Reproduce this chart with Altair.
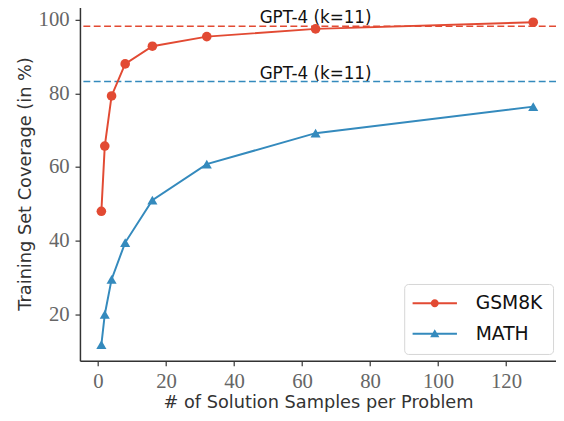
import altair as alt
import pandas as pd

samples = [1, 2, 4, 8, 16, 32, 64, 128]
gsm8k = [48.0, 65.7, 79.3, 88.0, 92.8, 95.4, 97.5, 99.3]
math_cov = [11.8, 20.0, 29.5, 39.5, 51.0, 60.8, 69.2, 76.4]
series_names = ["GSM8K", "MATH"]
series_colors = ["#E24A33", "#348ABD"]
gpt4_values = [98.2, 83.2]
gpt4_labels = ["GPT-4 (k=11)", "GPT-4 (k=11)"]
gpt4_label_x = [64, 64]
x_ticks = [0, 20, 40, 60, 80, 100, 120]
y_ticks = [20, 40, 60, 80, 100]

df = pd.DataFrame({
    "samples": samples * 2,
    "coverage": gsm8k + math_cov,
    "series": [series_names[0]] * len(samples) + [series_names[1]] * len(samples),
})
ref_df = pd.DataFrame({"value": gpt4_values, "label": gpt4_labels,
                       "lx": gpt4_label_x, "series": series_names})

xs = alt.Scale(domain=[-5.3, 134.7], nice=False, zero=False)
ys = alt.Scale(domain=[7.4, 103.7], nice=False, zero=False)

TICK_FONT = "Liberation Serif"

x_axis = alt.Axis(values=x_ticks, grid=False, title="# of Solution Samples per Problem",
                  labelFont=TICK_FONT, labelFontSize=21, labelColor="#666666",
                  titleFont="DejaVu Sans", titleFontSize=18, titleFontWeight="normal",
                  titleColor="#333333", titlePadding=2, labelPadding=5,
                  domainColor="#333333", domainWidth=1.5, tickColor="#333333",
                  tickSize=5, tickWidth=1.2)
y_axis = alt.Axis(values=y_ticks, grid=False, title="Training Set Coverage (in %)",
                  labelFont=TICK_FONT, labelFontSize=21, labelColor="#666666",
                  titleFont="DejaVu Sans", titleFontSize=18, titleFontWeight="normal",
                  titleColor="#333333", titlePadding=4, labelPadding=6,
                  domainColor="#333333", domainWidth=1.5, tickColor="#333333",
                  tickSize=5, tickWidth=1.2)

base = alt.Chart(df)

# drawn marks use stroke/fill channels (no legend); the legend comes from a separate colour layer
stroke_scale = alt.Scale(range=series_colors)

lines = base.mark_line(strokeWidth=2).encode(
    x=alt.X("samples:Q", scale=xs, axis=x_axis),
    y=alt.Y("coverage:Q", scale=ys, axis=y_axis),
    stroke=alt.Stroke("series:N", scale=stroke_scale, legend=None),
)

circles = base.transform_filter(alt.datum.series == "GSM8K").mark_point(
    filled=True, shape="circle", size=95, opacity=1
).encode(x="samples:Q", y="coverage:Q",
         fill=alt.Fill("series:N", scale=alt.Scale(range=series_colors[:1]), legend=None))

triangles = base.transform_filter(alt.datum.series == "MATH").mark_point(
    filled=True, shape="triangle-up", size=105, opacity=1
).encode(x="samples:Q", y="coverage:Q",
         fill=alt.Fill("series:N", scale=alt.Scale(range=series_colors[1:]), legend=None))

rules = alt.Chart(ref_df).mark_rule(strokeWidth=1.6, strokeDash=[7, 3.5]).encode(
    y=alt.Y("value:Q", scale=ys),
    stroke=alt.Stroke("series:N", scale=stroke_scale, legend=None),
)

labels = alt.Chart(ref_df).mark_text(
    font="DejaVu Sans", fontSize=17, color="#111111", baseline="alphabetic",
    align="center", dy=-3
).encode(x=alt.X("lx:Q", scale=xs), y=alt.Y("value:Q", scale=ys), text="label:N")

# legend symbols: a line segment with the marker, unit = 9px (symbolSize 324)
legend_paths = [
    "M-2.5,-0.111L2.5,-0.111L2.5,0.111L-2.5,0.111ZM0.45,0A0.45,0.45,0,1,1,-0.45,0A0.45,0.45,0,1,1,0.45,0Z",
    "M-2.5,-0.111L2.5,-0.111L2.5,0.111L-2.5,0.111ZM0,-0.5L0.52,0.38L-0.52,0.38Z",
]
leg = alt.Legend(orient="none", legendX=329, legendY=282, title=None,
                 labelFont="DejaVu Sans", labelFontSize=19, labelColor="#111111",
                 symbolSize=324, symbolStrokeWidth=0, symbolOpacity=1,
                 symbolOffset=11.5, labelOffset=32,
                 strokeColor="#d5d5d5", fillColor="white", cornerRadius=4,
                 padding=10, rowPadding=11)

legend_layer = base.transform_filter(alt.datum.samples == 1).mark_point(
    filled=True, size=0
).encode(
    x="samples:Q", y="coverage:Q",
    color=alt.Color("series:N", scale=alt.Scale(domain=series_names, range=series_colors), legend=leg),
    shape=alt.Shape("series:N", scale=alt.Scale(domain=series_names, range=legend_paths), legend=leg),
)

chart = alt.layer(rules, labels, lines, circles, triangles, legend_layer).resolve_scale(
    fill="independent"
).properties(
    width=483, height=360,
    autosize=alt.AutoSizeParams(type="none"),
    padding={"left": 73, "top": -5, "right": 0, "bottom": 58},
).configure_view(stroke=None).configure(background="white")

chart.save("out.html", embed_options={"renderer": "svg", "actions": False})
